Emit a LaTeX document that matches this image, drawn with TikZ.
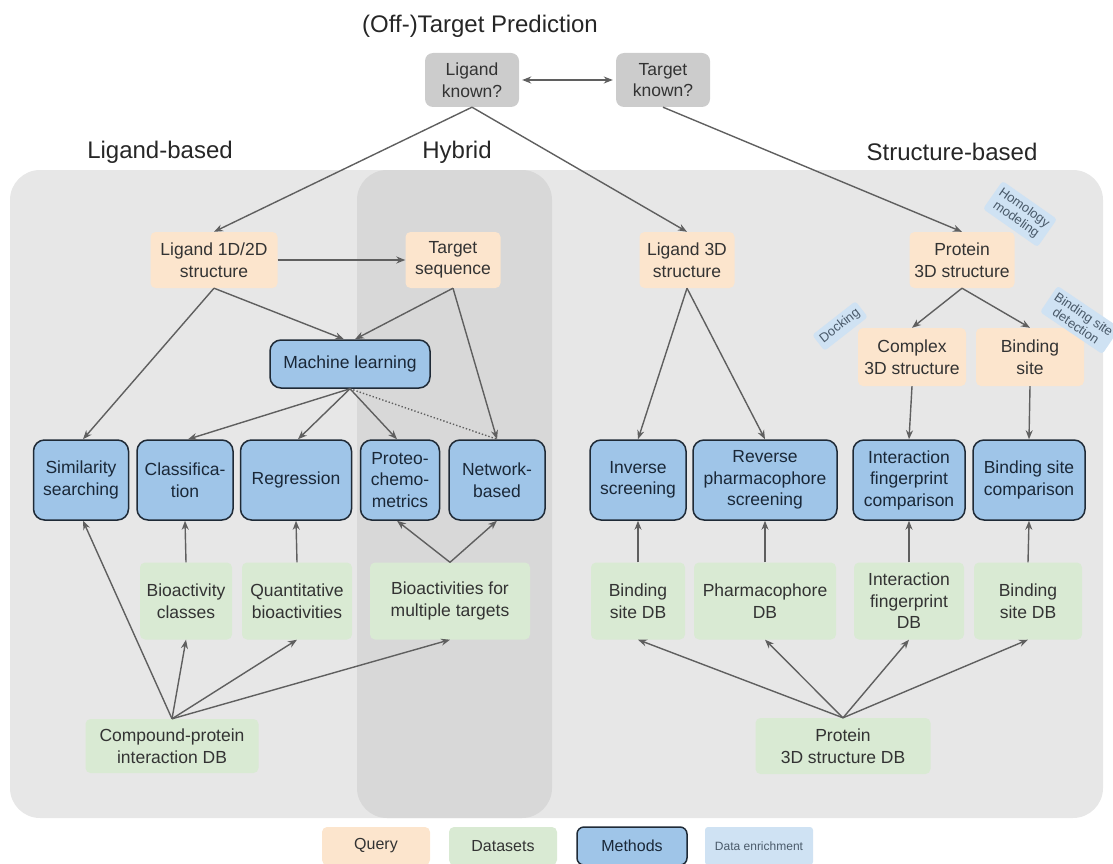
\documentclass[tikz,border=0pt]{standalone}
\usepackage{fontspec}
\setmainfont{Liberation Sans}
\usetikzlibrary{arrows.meta}
\definecolor{qcol}{HTML}{FCE5CD}
\definecolor{dcol}{HTML}{D9EAD3}
\definecolor{mcol}{HTML}{9FC5E8}
\definecolor{ecol}{HTML}{CFE2F3}
\definecolor{bgcol}{HTML}{E7E7E7}
\definecolor{hycol}{HTML}{D8D8D8}
\definecolor{kcol}{HTML}{CCCCCC}
\definecolor{acol}{HTML}{5F5F5F}
\definecolor{mbord}{HTML}{1F2A36}
\definecolor{txt}{HTML}{333333}
\definecolor{mtxt}{HTML}{1A2838}
\definecolor{etxt}{HTML}{4A5A6A}
\begin{document}
\begin{tikzpicture}[x=1pt,y=-1pt,
 box/.style={rounded corners=5pt, align=center, inner sep=0pt, font=\fontsize{17.5}{21.5}\selectfont, text=txt},
 qbox/.style={box, fill=qcol},
 dbox/.style={box, fill=dcol},
 kbox/.style={box, fill=kcol, rounded corners=8pt},
 mbox/.style={box, fill=mcol, draw=mbord, line width=1.5pt, rounded corners=11pt, text=mtxt},
 ebox/.style={fill=ecol, rounded corners=3pt, align=center, inner sep=4pt, font=\fontsize{13}{14}\selectfont, text=etxt},
 arr/.style={-{Stealth[length=9pt,width=7pt]}, draw=acol, line width=1.4pt},
 dline/.style={draw=acol, line width=1.4pt, dotted},
 head/.style={font=\fontsize{24}{28}\selectfont, text=black!85}
]
\useasboundingbox (0,0) rectangle (1113,864);
% backgrounds
\fill[bgcol, rounded corners=30pt] (10,170) rectangle (1103,818);
\fill[hycol, rounded corners=30pt] (357,170) rectangle (552,818);
% headings
\node[head] (title) at (480,26) {(Off-)Target Prediction};
\node[head] (hlig) at (160,152) {Ligand-based};
\node[head] (hhyb) at (457,152) {Hybrid};
\node[head] (hstr) at (952,152) {Structure-based};
% top
\node[kbox, minimum width=94pt, minimum height=54pt] (k1) at (472,80) {Ligand\\known?};
\node[kbox, minimum width=94pt, minimum height=54pt] (k2) at (663,80) {Target\\known?};
% queries
\node[qbox, minimum width=127pt, minimum height=56pt] (lig12) at (214,260) {Ligand 1D/2D\\structure};
\node[qbox, minimum width=95pt, minimum height=56pt] (tseq) at (453,260) {Target\\sequence};
\node[qbox, minimum width=95pt, minimum height=56pt] (lig3d) at (687,260) {Ligand 3D\\structure};
\node[qbox, minimum width=105pt, minimum height=56pt] (prot3d) at (962,260) {Protein\\3D structure};
\node[qbox, minimum width=108pt, minimum height=58pt] (cplx) at (912,357) {Complex\\3D structure};
\node[qbox, minimum width=108pt, minimum height=58pt] (bsite) at (1030,357) {Binding\\site};
% enrichment
\node[ebox, rotate=-35] (e1) at (1020,214) {Homology\\modeling};
\node[ebox, rotate=38] (e2) at (840,326) {Docking};
\node[ebox, rotate=-34] (e3) at (1080,320) {Binding site\\detection};
% machine learning
\node[mbox, minimum width=160pt, minimum height=48pt] (ml) at (350,364) {Machine learning};
% methods
\node[mbox, minimum width=95pt, minimum height=80pt] (sim) at (81,480) {Similarity\\searching};
\node[mbox, minimum width=96pt, minimum height=80pt] (cls) at (185,480) {Classifica-\\tion};
\node[mbox, minimum width=111pt, minimum height=80pt] (reg) at (296,480) {Regression};
\node[mbox, minimum width=79pt, minimum height=80pt] (pcm) at (400,480) {Proteo-\\chemo-\\metrics};
\node[mbox, minimum width=96pt, minimum height=80pt] (net) at (497,480) {Network-\\based};
\node[mbox, minimum width=96pt, minimum height=80pt] (inv) at (638,480) {Inverse\\screening};
\node[mbox, minimum width=144pt, minimum height=80pt] (rev) at (765,480) {Reverse\\pharmacophore\\screening};
\node[mbox, minimum width=112pt, minimum height=80pt] (ifc) at (909,480) {Interaction\\fingerprint\\comparison};
\node[mbox, minimum width=112pt, minimum height=80pt] (bsc) at (1029,480) {Binding site\\comparison};
% datasets
\node[dbox, minimum width=92pt, minimum height=77pt] (bac) at (186,601) {Bioactivity\\classes};
\node[dbox, minimum width=110pt, minimum height=77pt] (qbio) at (297,601) {Quantitative\\bioactivities};
\node[dbox, minimum width=160pt, minimum height=77pt] (bmt) at (450,601) {Bioactivities for\\multiple targets};
\node[dbox, minimum width=94pt, minimum height=77pt] (bsdb1) at (638,601) {Binding\\site DB};
\node[dbox, minimum width=142pt, minimum height=77pt] (phdb) at (765,601) {Pharmacophore\\DB};
\node[dbox, minimum width=110pt, minimum height=77pt] (ifdb) at (909,601) {Interaction\\fingerprint\\DB};
\node[dbox, minimum width=108pt, minimum height=77pt] (bsdb2) at (1028,601) {Binding\\site DB};
\node[dbox, minimum width=173pt, minimum height=54pt] (cpi) at (172,746) {Compound-protein\\interaction DB};
\node[dbox, minimum width=175pt, minimum height=56pt] (p3db) at (843,746) {Protein\\3D structure DB};
% legend
\node[qbox, minimum width=108pt, minimum height=38pt, font=\fontsize{16}{19}\selectfont] (lq) at (376,846) {Query};
\node[dbox, minimum width=108pt, minimum height=38pt, font=\fontsize{16}{19}\selectfont] (ld) at (503,846) {Datasets};
\node[mbox, minimum width=110pt, minimum height=38pt, font=\fontsize{16}{19}\selectfont, rounded corners=7pt] (lm) at (632,846) {Methods};
\node[ebox, minimum width=108pt, minimum height=38pt, inner sep=0pt, font=\fontsize{12}{14}\selectfont] (le) at (759,846) {Data enrichment};
% connectors
\draw[arr, {Stealth[length=9pt,width=7pt]}-{Stealth[length=9pt,width=7pt]}] ([xshift=3pt]k1.east) -- ([xshift=-3pt]k2.west);
\draw[arr] (k1.south) -- (lig12.north);
\draw[arr] (k1.south) -- (lig3d.north);
\draw[arr] (k2.south) -- (prot3d.north);
\draw[arr] (lig12.east) -- (tseq.west);
\draw[arr] (lig12.south) -- ([xshift=-6pt]ml.north);
\draw[arr] (tseq.south) -- ([xshift=5pt]ml.north);
\draw[arr] (lig12.south) -- ([xshift=2pt]sim.north);
\draw[arr] (tseq.south) -- (net.north);
\draw[arr] (ml.south) -- ([xshift=3pt]cls.north);
\draw[arr] (ml.south) -- ([xshift=2pt]reg.north);
\draw[arr] (ml.south) -- ([xshift=-3pt]pcm.north);
\draw[dline] (ml.south) -- (net.north);
\draw[arr] (bac.north) -- (cls.south);
\draw[arr] (qbio.north) -- (reg.south);
\draw[arr] (bmt.north) -- ([xshift=-3pt]pcm.south);
\draw[arr] (bmt.north) -- (net.south);
\draw[arr] (cpi.north) -- ([xshift=2pt]sim.south);
\draw[arr] (cpi.north) -- (bac.south);
\draw[arr] (cpi.north) -- (qbio.south);
\draw[arr] (cpi.north) -- (bmt.south);
\draw[arr] (lig3d.south) -- (inv.north);
\draw[arr] (lig3d.south) -- (rev.north);
\draw[arr] (prot3d.south) -- (cplx.north);
\draw[arr] (prot3d.south) -- (bsite.north);
\draw[arr] (cplx.south) -- (ifc.north);
\draw[arr] (bsite.south) -- (bsc.north);
\draw[arr] (bsdb1.north) -- (inv.south);
\draw[arr] (phdb.north) -- (rev.south);
\draw[arr] (ifdb.north) -- (ifc.south);
\draw[arr] (bsdb2.north) -- (bsc.south);
\draw[arr] (p3db.north) -- (bsdb1.south);
\draw[arr] (p3db.north) -- (phdb.south);
\draw[arr] (p3db.north) -- (ifdb.south);
\draw[arr] (p3db.north) -- (bsdb2.south);
\end{tikzpicture}
\end{document}
